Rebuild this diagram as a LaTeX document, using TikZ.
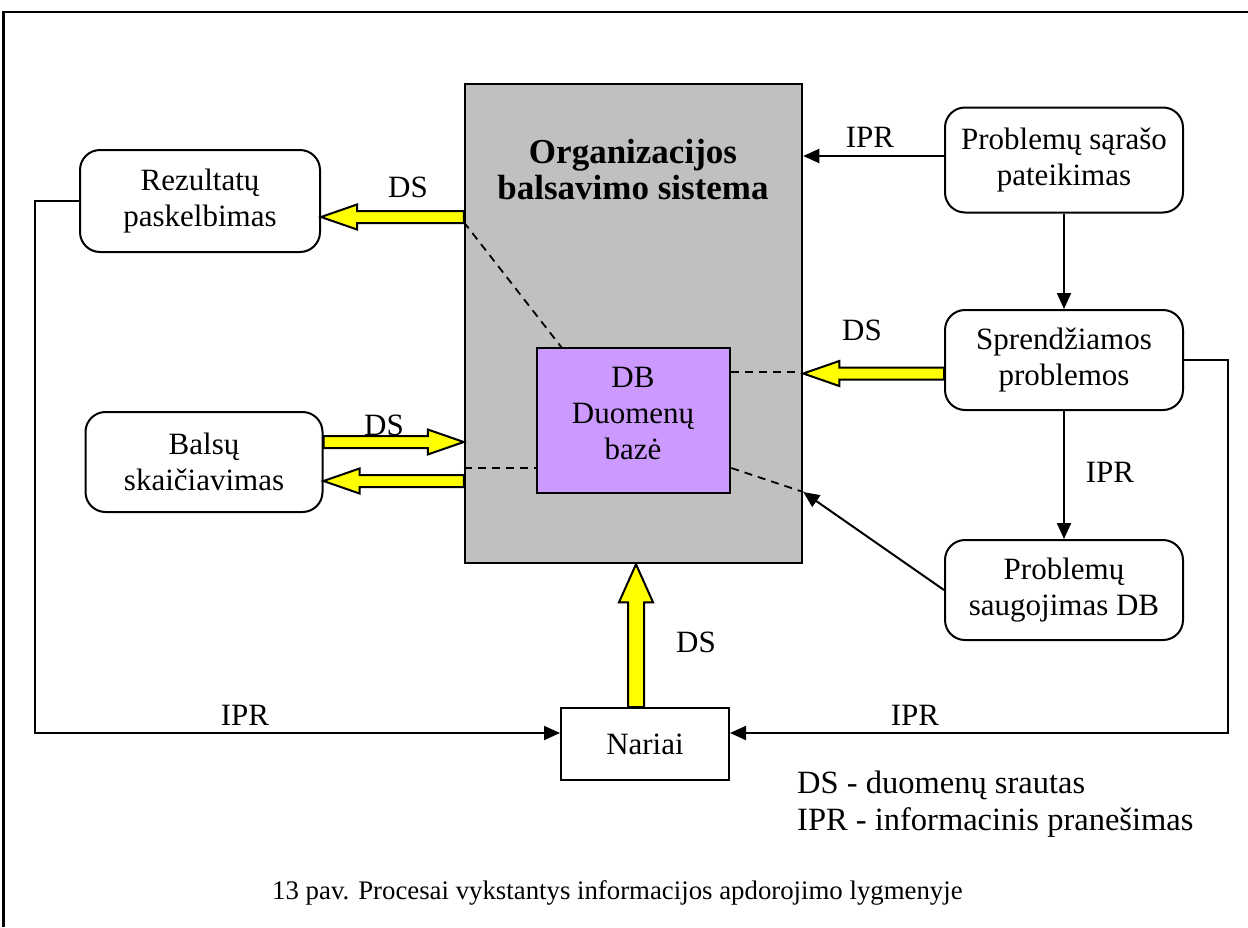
\documentclass[tikz,border=0pt]{standalone}
\usepackage{fontspec}
\setmainfont{Liberation Serif}
\usetikzlibrary{arrows.meta,calc}
\definecolor{sysgray}{HTML}{C0C0C0}
\definecolor{dbpurple}{HTML}{CC99FF}
\definecolor{flowyellow}{HTML}{FFFF00}
% block arrow: start, tip, shaft half width, head half width, head length
\newcommand\flowarrow[5]{%
  \path ($(#2)!#5!(#1)$) coordinate (fa-base);
  \draw[flowshape] ($(#1)!#3!90:(#2)$) -- ($(fa-base)!#3!-90:(#1)$)
    -- ($(fa-base)!#4!-90:(#1)$) -- (#2) -- ($(fa-base)!#4!90:(#1)$)
    -- ($(fa-base)!#3!90:(#1)$) -- ($(#1)!#3!-90:(#2)$) -- cycle;}
\begin{document}
\begin{tikzpicture}[x=1pt,y=-1pt,
  txt/.style={font=\fontsize{31}{36}\selectfont, align=center, inner sep=0pt},
  procbox/.style={txt, draw, line width=2pt, rounded corners=20pt},
  plainbox/.style={txt, draw, line width=2pt},
  sysbox/.style={draw, line width=2.5pt, fill=sysgray, inner sep=0pt},
  dbbox/.style={draw, line width=2.5pt, fill=dbpurple, inner sep=0pt},
  conn/.style={line width=2pt, -{Triangle[length=16pt,width=14pt]}},
  link/.style={line width=1.8pt, dash pattern=on 8pt off 6pt},
  flowshape/.style={draw, line width=2pt, fill=flowyellow, line join=miter},
  lbl/.style={font=\fontsize{31}{36}\selectfont, inner sep=0pt},
  legend/.style={font=\fontsize{32.5}{38}\selectfont, inner sep=0pt},
  capt/.style={font=\fontsize{26.8}{30}\selectfont, inner sep=0pt}]
\useasboundingbox (0,0) rectangle (1248,927);
\fill[white] (0,0) rectangle (1248,927);

% page frame
\draw[line width=2.5pt] (3.5,927) -- (3.5,12) -- (1248,12);

% central system and its database
\node[sysbox, minimum width=337pt, minimum height=479pt] (sys) at (633.5,323.5) {};
\node[txt, font=\bfseries\fontsize{35}{36}\selectfont] (systitle) at (633,170) {Organizacijos\\balsavimo sistema};
\node[dbbox, minimum width=193pt, minimum height=145pt] (db) at (633.5,420.5) {};
\node[txt] (dbtext) at (633,413) {DB\\Duomenų\\bazė};

% processes
\node[procbox, minimum width=240pt, minimum height=102pt] (rez) at (200,201) {Rezultatų\\paskelbimas};
\node[procbox, minimum width=237pt, minimum height=100pt] (bals) at (204,462) {Balsų\\skaičiavimas};
\node[procbox, minimum width=238pt, minimum height=105pt] (psar) at (1064,160) {Problemų sąrašo\\pateikimas};
\node[procbox, minimum width=238pt, minimum height=100pt] (spr) at (1064,360) {Sprendžiamos\\problemos};
\node[procbox, minimum width=238pt, minimum height=100pt] (saug) at (1064,590) {Problemų\\saugojimas DB};
\node[plainbox, minimum width=168pt, minimum height=72pt] (nar) at (645,744) {Nariai};

% attachment points
\coordinate (rzA) at (sys.west |- 0,217);
\coordinate (rzB) at (rez.east |- 0,217);
\coordinate (bsA) at (bals.east |- 0,442);
\coordinate (bsB) at (sys.west |- 0,442);
\coordinate (bcA) at (sys.west |- 0,481);
\coordinate (bcB) at (bals.east |- 0,481);
\coordinate (spA) at (spr.west |- 0,373.5);
\coordinate (spB) at (sys.east |- 0,373.5);
\coordinate (nrA) at (nar.north -| 636,0);
\coordinate (nrB) at (sys.south -| 636,0);
\coordinate (sysdb) at (sys.east |- 0,492);
\coordinate (narL) at (nar.west |- 0,733);
\coordinate (narR) at (nar.east |- 0,733);

% data flows
\flowarrow{rzA}{rzB}{6pt}{12.5pt}{36pt}
\flowarrow{bsA}{bsB}{6pt}{12.5pt}{36pt}
\flowarrow{bcA}{bcB}{6pt}{12.5pt}{36pt}
\flowarrow{spA}{spB}{6pt}{12.5pt}{36pt}
\flowarrow{nrA}{nrB}{8pt}{17pt}{38pt}

% links to the database
\draw[link] (sys.west |- 0,222) -- (562,348);
\draw[link] (db.east |- 0,372) -- (sys.east |- 0,372);
\draw[link] (sys.west |- 0,468) -- (db.west |- 0,468);
\draw[link] (db.east |- 0,468) -- (sysdb);

% messages
\draw[conn] (psar.west |- 0,156) -- (sys.east |- 0,156);
\draw[conn] (psar.south) -- (spr.north);
\draw[conn] (spr.south) -- (saug.north);
\draw[conn] (saug.west) -- (sysdb);
\draw[conn] (rez.west) -- (35,0 |- rez.west) |- (narL);
\draw[conn] (spr.east) -- (1228,0 |- spr.east) |- (narR);

% labels
\node[lbl] (lds1) at (408,187) {DS};
\node[lbl] (lds2) at (384,425) {DS};
\node[lbl] (lds3) at (696,642) {DS};
\node[lbl] (lds4) at (862,330) {DS};
\node[lbl] (lipr1) at (870,137) {IPR};
\node[lbl] (lipr2) at (1110,472) {IPR};
\node[lbl] (lipr3) at (245,715) {IPR};
\node[lbl] (lipr4) at (915,715) {IPR};

% legend and caption
\node[legend, anchor=west] (leg1) at (797,785) {DS - duomenų srautas};
\node[legend, anchor=west] (leg2) at (797,823) {IPR - informacinis pranešimas};
\node[capt, anchor=west] (caption) at (272,893) {13 pav. Procesai vykstantys informacijos apdorojimo lygmenyje};
\end{tikzpicture}
\end{document}
